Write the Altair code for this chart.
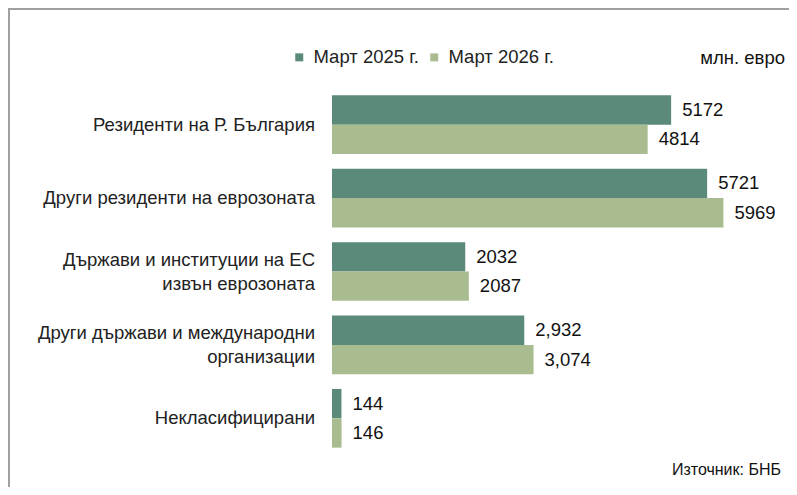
import altair as alt
import pandas as pd

categories = [
    "Резиденти на Р. България",
    "Други резиденти на еврозоната",
    "Държави и институции на ЕС\nизвън еврозоната",
    "Други държави и международни\nорганизации",
    "Некласифицирани",
]
series_names = ["Март 2025 г.", "Март 2026 г."]
values_2025 = [5172, 5721, 2032, 2932, 144]
values_2026 = [4814, 5969, 2087, 3074, 146]
labels_2025 = ["5172", "5721", "2032", "2,932", "144"]
labels_2026 = ["4814", "5969", "2087", "3,074", "146"]
colors = ["#5B8A7B", "#A9BC90"]
unit_text = "млн. евро"
source_text = "Източник: БНБ"

rows = []
for c, v, l in zip(categories, values_2025, labels_2025):
    rows.append({"cat": c, "series": series_names[0], "value": v, "lbl": l})
for c, v, l in zip(categories, values_2026, labels_2026):
    rows.append({"cat": c, "series": series_names[1], "value": v, "lbl": l})
df = pd.DataFrame(rows)
cat_df = pd.DataFrame({"cat": categories})

FONT = "Liberation Sans"
W, H = 400, 367

y_enc = alt.Y("cat:N", sort=categories, axis=None,
              scale=alt.Scale(paddingInner=0.2, paddingOuter=0.1))
yoff_enc = alt.YOffset("series:N", sort=series_names,
                       scale=alt.Scale(paddingInner=0, paddingOuter=0))
x_enc = alt.X("value:Q", axis=None, scale=alt.Scale(domain=[0, 6100], nice=False))

bars = alt.Chart(df).mark_bar().encode(
    x=x_enc,
    y=y_enc,
    yOffset=yoff_enc,
    color=alt.Color(
        "series:N",
        sort=series_names,
        scale=alt.Scale(domain=series_names, range=colors),
        legend=alt.Legend(
            title=None,
            orient="none",
            legendX=-42,
            legendY=-40,
            direction="horizontal",
            symbolType="square",
            symbolSize=64,
            symbolStrokeWidth=0,
            labelFont=FONT,
            labelFontSize=18.5,
            labelColor="#222222",
            labelOffset=5,
            columnPadding=6,
        ),
    ),
)

vals = alt.Chart(df).mark_text(
    align="left", baseline="middle", dx=11, font=FONT, fontSize=18.5, color="#111111"
).encode(x=x_enc, y=y_enc, yOffset=yoff_enc, text="lbl:N")

cats_single = alt.Chart(cat_df).transform_filter(
    "indexof(datum.cat, '\\n') < 0"
).mark_text(
    align="right", baseline="middle", font=FONT, fontSize=18.5, color="#222222",
).encode(x=alt.value(-17), y=y_enc, text="cat:N")

cats_multi = alt.Chart(cat_df).transform_filter(
    "indexof(datum.cat, '\\n') >= 0"
).mark_text(
    align="right", baseline="middle", font=FONT, fontSize=18.5, color="#222222",
    lineBreak="\n", lineHeight=24, dy=-12,
).encode(x=alt.value(-17), y=y_enc, text="cat:N")

unit = alt.Chart(pd.DataFrame({"t": [unit_text]})).mark_text(
    align="right", baseline="middle", font=FONT, fontSize=18.5, color="#111111"
).encode(x=alt.value(453), y=alt.value(-30), text="t:N")

source = alt.Chart(pd.DataFrame({"t": [source_text]})).mark_text(
    align="right", baseline="middle", font=FONT, fontSize=16, color="#111111"
).encode(x=alt.value(449), y=alt.value(382), text="t:N")

one = pd.DataFrame({"a": [0]})
top_line = alt.Chart(one).mark_rule(color="#A0A0A0", strokeWidth=2).encode(
    x=alt.value(-324), x2=alt.value(460), y=alt.value(-79)
)
left_line = alt.Chart(one).mark_rule(color="#A0A0A0", strokeWidth=2).encode(
    x=alt.value(-323), y=alt.value(-80), y2=alt.value(400)
)

chart = alt.layer(bars, vals, cats_single, cats_multi, unit, source, top_line, left_line).properties(
    width=W,
    height=H,
    autosize=alt.AutoSizeParams(type="none"),
    padding={"left": 324, "top": 80, "right": 57, "bottom": 32},
    background="white",
).configure_view(stroke=None)

chart.save("out.html", embed_options={"renderer": "svg", "actions": False})
